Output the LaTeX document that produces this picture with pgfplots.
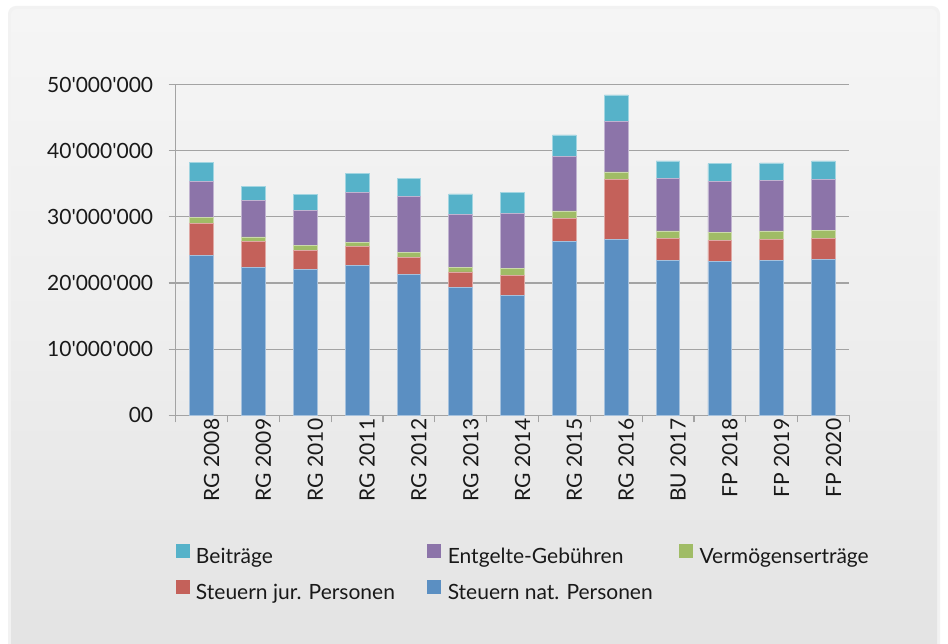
\documentclass[border=0pt]{standalone}
\usepackage{fontspec}
\setmainfont{Lato}
\usepackage{pgfplots}
\usepackage{pgfplotstable}
\pgfplotsset{compat=1.18}

\definecolor{cBlue}{HTML}{5B8FC2}
\definecolor{cRed}{HTML}{C4615A}
\definecolor{cGreen}{HTML}{A0BC66}
\definecolor{cPurple}{HTML}{8C74A9}
\definecolor{cCyan}{HTML}{56B2C9}
\definecolor{gridc}{HTML}{A3A3A3}
\definecolor{panelTop}{HTML}{F5F5F5}
\definecolor{panelBot}{HTML}{E3E3E3}

\newcommand{\q}{\textquotesingle}
\newcommand{\lbl}{\fontsize{21}{25}\selectfont}

% values in millions
\pgfplotstableread{
x  nat   jur  verm entg beit
0  24.13 4.84 0.97 5.44 2.87
1  22.38 3.87 0.71 5.54 2.12
2  22.07 2.82 0.81 5.24 2.47
3  22.68 2.81 0.71 7.46 2.93
4  21.32 2.51 0.76 8.46 2.73
5  19.35 2.32 0.71 8.01 3.07
6  18.14 3.03 1.00 8.37 3.12
7  26.31 3.42 1.16 8.21 3.28
8  26.61 9.01 1.17 7.60 4.04
9  23.43 3.27 1.17 7.91 2.67
10 23.28 3.12 1.31 7.61 2.72
11 23.38 3.17 1.32 7.60 2.68
12 23.59 3.17 1.21 7.71 2.77
}\data

\pgfplotsset{
  sqleg/.style={legend image code/.code={
    \path (0pt,0pt) (20pt,0pt);
    \fill[##1,draw=none] (0pt,0pt) rectangle (14pt,14pt);}},
}

\begin{document}
\begin{tikzpicture}[x=1pt,y=1pt]
\path[use as bounding box, fill=white] (0,0) rectangle (948,644);
\fill[black!5, rounded corners=8pt] (8,-12) rectangle (940,638);
\shade[top color=panelTop, bottom color=panelBot, middle color=panelTop!60!panelBot, rounded corners=6pt] (11,-10) rectangle (937,635);
\begin{axis}[
  at={(175.7pt,228.7pt)}, anchor=south west,
  scale only axis, width=673.7pt, height=330.7pt,
  ybar stacked, bar width=23.7pt,
  xmin=-0.5, xmax=12.5, ymin=0, ymax=50,
  axis lines*=left,
  axis line style={gridc, line width=1.2pt, -},
  tick style={gridc, line width=1.2pt},
  tick align=outside, major tick length=7pt,
  xtick={-0.5,0.5,1.5,2.5,3.5,4.5,5.5,6.5,7.5,8.5,9.5,10.5,11.5,12.5},
  xticklabels={},
  extra x ticks={0,1,2,3,4,5,6,7,8,9,10,11,12},
  extra x tick labels={RG 2008,RG 2009,RG 2010,RG 2011,RG 2012,RG 2013,RG 2014,RG 2015,RG 2016,BU 2017,FP 2018,FP 2019,FP 2020},
  extra x tick style={major tick length=0pt, grid=none,
    xticklabel style={rotate=90, anchor=east, font=\lbl, text=black!90, yshift=-10pt}},
  ytick={0,10,20,30,40,50},
  yticklabels={00,10\q000\q000,20\q000\q000,30\q000\q000,40\q000\q000,50\q000\q000},
  yticklabel style={font=\lbl, text=black!90, anchor=east, xshift=-12pt},
  ymajorgrids,
  grid style={gridc, line width=1.2pt},
  reverse legend,
  legend columns=3,
  legend style={at={(0,0)}, anchor=north west, xshift=-0.7pt, yshift=-128.7pt,
    draw=none, fill=none, inner sep=0pt, column sep=0pt, row sep=11pt,
    nodes={inner sep=0pt, text height=16pt, text depth=5pt, font=\lbl, text=black!90}},
  legend cell align=left,
]
\addplot[fill=cBlue, draw=cBlue!55!white, line width=0.8pt, sqleg] table[x=x,y=nat]{\data};
\addlegendentry{\makebox[231pt][l]{Steuern nat. Personen}}
\addplot[fill=cRed, draw=cRed!55!white, line width=0.8pt, sqleg] table[x=x,y=jur]{\data};
\addlegendentry{\makebox[231pt][l]{Steuern jur. Personen}}
\addplot[fill=cGreen, draw=cGreen!55!white, line width=0.8pt, sqleg] table[x=x,y=verm]{\data};
\addlegendentry{\makebox[231pt][l]{Vermögenserträge}}
\addplot[fill=cPurple, draw=cPurple!55!white, line width=0.8pt, sqleg] table[x=x,y=entg]{\data};
\addlegendentry{\makebox[231pt][l]{Entgelte-Gebühren}}
\addplot[fill=cCyan, draw=cCyan!55!white, line width=0.8pt, sqleg] table[x=x,y=beit]{\data};
\addlegendentry{\makebox[231pt][l]{Beiträge}}
\end{axis}
\end{tikzpicture}
\end{document}
